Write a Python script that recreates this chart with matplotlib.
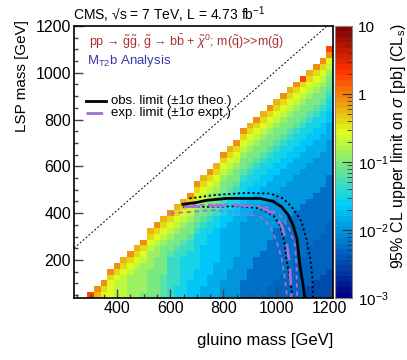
import numpy as np
import matplotlib
matplotlib.use('Agg')
from matplotlib import pyplot as plt
from matplotlib.colors import LinearSegmentedColormap, LogNorm
from matplotlib.ticker import FixedLocator, MultipleLocator, LogLocator, NullFormatter

plt.rcParams['font.family'] = ['Liberation Sans', 'DejaVu Sans']
plt.rcParams['mathtext.fontset'] = 'custom'
plt.rcParams['mathtext.rm'] = 'Liberation Sans'
plt.rcParams['mathtext.it'] = 'Liberation Sans:italic'
plt.rcParams['mathtext.sf'] = 'Liberation Sans'

# gluino mass of each filled column [GeV]
gluino_mass = [300, 325, 350, 375, 400, 425, 450, 475, 500, 525, 550, 575, 600,
               625, 650, 675, 700, 725, 750, 775, 800, 825, 850, 875, 900, 925,
               950, 975, 1000, 1025, 1050, 1075, 1100, 1125, 1150, 1175, 1200]

# colour level read off per cell, one string per column, bottom row is LSP = 50 GeV,
# step 25 GeV; 'a' = 1e-3 pb ... 'z' = 10 pb (log scale)
cell_levels = [
    "u",
    "rs",
    "pqs",
    "pppqs",
    "ooopqs",
    "oooopqr",
    "nnnnopqs",
    "nnnnnopqr",
    "mnnnnnopqs",
    "mmmmmnnnopqr",
    "mmmmmmmnnopqs",
    "llllmmmmmnopqr",
    "kkkkkkklmmnopqs",
    "jjkkkkkklmmnopqr",
    "jjjjjjjkklmmnopqr",
    "iiijjjjjkklmmnopqs",
    "iiiiijjjjjjklmmnopqs",
    "hhiiiiiiijjjklmmnopqr",
    "hhhhiiiiiiijjklmmnopqs",
    "hhhhhhiiiiiijjklmmnopqr",
    "ggghhhhhhhhhiijjklmmnopqs",
    "ggggghhhhhhhhiijjklmmnopqr",
    "ggggggghhhhhhhiijjklmmnopqs",
    "fffgggggggggghhhiijjklmmnopqs",
    "fffffggggggggghhhiijjklmmnopqr",
    "fffffffgggggggghhhiijjklmmnopqs",
    "ffffffffgggggggghhhiijjklmmnopqr",
    "eeffffffffggggggghhhiijjklmmnopqs",
    "eeefffffffffgggggghhhiijjklmmnopqr",
    "eeeefffffffffgggggghhhiijjklmmnopqs",
    "eeeeefffffffffgggggghhhiijjklmmnopqr",
    "eeeeeefffffffffgggggghhhiijjklmmnopqs",
    "eeeeeeefffffffffgggggghhhiijjklmmnopqu",
    "ddeeeeeeeffffffffgggggghhhiijjklmmnopqr",
    "dddeeeeeeeffffffffgggggghhhiijjklmmnopqs",
    "ddddeeeeeeeffffffffgggggghhhiijjklmmnopqs",
    "dddddeeeeeeeeffffffffgggggghhhiijjklmmnopsu",
]

# exclusion contours (gluino mass, LSP mass) [GeV]
obs_x = [647, 700, 737, 812, 937, 987, 1019, 1044, 1062, 1077, 1085, 1091, 1100, 1106]
obs_y = [438, 446, 455, 463, 463, 451, 427, 392, 349, 292, 207, 151, 94, 40]
obs_up_x = [672, 762, 887, 975, 1025, 1062, 1094, 1112, 1127, 1135, 1137]
obs_up_y = [463, 477, 487, 484, 463, 420, 363, 292, 207, 122, 40]
obs_dn_x = [647, 762, 862, 937, 987, 1012, 1029, 1037, 1050, 1060]
obs_dn_y = [427, 427, 430, 420, 392, 349, 278, 207, 122, 40]
exp_x = [650, 862, 937, 987, 1019, 1037, 1050, 1056]
exp_y = [427, 434, 427, 399, 349, 278, 179, 40]
exp_up_x = [650, 837, 962, 1012, 1047, 1069, 1075, 1077]
exp_up_y = [434, 438, 427, 392, 335, 264, 179, 40]
exp_dn_x = [600, 762, 862, 937, 975, 1000, 1019, 1031, 1040]
exp_dn_y = [399, 413, 403, 385, 349, 278, 207, 122, 40]

# ROOT style rainbow palette
stops = [0.0, 0.34, 0.61, 0.84, 1.0]
reds = [0.0, 0.0, 0.87, 1.0, 0.51]
greens = [0.0, 0.81, 1.0, 0.2, 0.0]
blues = [0.51, 1.0, 0.12, 0.0, 0.0]
palette = LinearSegmentedColormap.from_list(
    'root', [(s, (r, g, b)) for s, r, g, b in zip(stops, reds, greens, blues)], N=50)

x_edges = np.arange(237.5, 1212.6, 25)
y_edges = np.arange(37.5, 1212.6, 25)
z = np.full((len(y_edges) - 1, len(x_edges) - 1), np.nan)
for mg, col in zip(gluino_mass, cell_levels):
    i = int((mg - 250) // 25)
    for j, c in enumerate(col):
        z[j, i] = 10 ** (-3 + 4 * (ord(c) - ord('a')) / 25.0)

W, H = 407, 360
fig = plt.figure(figsize=(W / 100, H / 100), dpi=100)
ax = fig.add_axes([74 / W, 1 - 298 / H, 259 / W, 272 / H])
mesh = ax.pcolormesh(x_edges, y_edges, np.ma.masked_invalid(z), cmap=palette,
                     norm=LogNorm(1e-3, 10), shading='flat')

# kinematic diagonal
ax.plot([237.5, 1190], [250, 1200], color='black', ls=(0, (2, 2)), lw=0.7)

ax.plot(obs_up_x, obs_up_y, color='black', ls=(0, (1.2, 1.5)), lw=1.3)
ax.plot(obs_dn_x, obs_dn_y, color='black', ls=(0, (1.2, 1.5)), lw=1.3)
ax.plot(exp_up_x, exp_up_y, color='#a070d8', ls=(0, (2.5, 2)), lw=1.3)
ax.plot(exp_dn_x, exp_dn_y, color='#a070d8', ls=(0, (2.5, 2)), lw=1.3)
ax.plot(exp_x, exp_y, color='#a070d8', ls=(0, (6, 3)), lw=2)
ax.plot(obs_x, obs_y, color='black', lw=2)

ax.set_xlim(237.5, 1212.5)
ax.set_ylim(37.5, 1200)
ax.xaxis.set_major_locator(FixedLocator([400, 600, 800, 1000, 1200]))
ax.xaxis.set_minor_locator(MultipleLocator(50))
ax.yaxis.set_major_locator(FixedLocator([200, 400, 600, 800, 1000, 1200]))
ax.yaxis.set_minor_locator(MultipleLocator(50))
ax.tick_params(which='both', direction='in', color='#444444', labelsize=11.5, pad=2)
ax.tick_params(which='major', length=6.5, width=1)
ax.tick_params(which='minor', length=3, width=1)
for sp in ax.spines.values():
    sp.set_linewidth(1.2)

# colour bar
cax = fig.add_axes([335 / W, 1 - 298 / H, 17 / W, 272 / H])
cb = fig.colorbar(mesh, cax=cax)
cb.outline.set_edgecolor('#888888')
cb.set_ticks([1e-3, 1e-2, 1e-1, 1, 10])
cb.set_ticklabels(['10$^{-3}$', '10$^{-2}$', '10$^{-1}$', '1', '10'])
cax.yaxis.set_minor_locator(LogLocator(subs=np.arange(2, 10)))
cax.yaxis.set_minor_formatter(NullFormatter())
cax.tick_params(which='both', direction='in', color='#333333', labelsize=11, pad=4)
cax.tick_params(which='major', length=7)
cax.tick_params(which='minor', length=3.5)

# texts
fig.text(73 / W, 1 - 15 / H, 'CMS, \u221as = 7 TeV, L = 4.73 fb$^{-1}$', fontsize=10,
         va='center', ha='left')
fig.text(89 / W, 1 - 42 / H,
         'pp \u2192 ' + r'$\tilde{\mathrm{g}}\tilde{\mathrm{g}}$, $\tilde{\mathrm{g}}$' + ' \u2192 '
         r'b$\bar{\mathrm{b}}$ + $\tilde{\chi}^{0}$; m($\tilde{\mathrm{q}}$)>>m($\tilde{\mathrm{g}}$)',
         color='#aa3030', fontsize=9, va='center', ha='left')
fig.text(87 / W, 1 - 61 / H, r'M$_{\mathrm{T2}}$b Analysis', color='#3a3aa8', fontsize=9.5,
         va='center', ha='left')
fig.add_artist(plt.Line2D([86 / W, 106 / W], [1 - 101 / H, 1 - 101 / H], color='black', lw=2))
fig.text(111 / W, 1 - 101 / H, 'obs. limit (\u00b11\u03c3 theo.)', fontsize=9.5, va='center')
fig.add_artist(plt.Line2D([86 / W, 106 / W], [1 - 113 / H, 1 - 113 / H], color='#a070d8', lw=2,
                          ls=(0, (6, 3, 2, 3))))
fig.text(111 / W, 1 - 113 / H, 'exp. limit (\u00b11\u03c3 expt.)', fontsize=9.5, va='center')

fig.text(333 / W, 1 - 340 / H, 'gluino mass [GeV]', fontsize=12, ha='right', va='center')
fig.text(22 / W, 1 - 20 / H, 'LSP mass [GeV]', fontsize=11, rotation=90, ha='center', va='top')
fig.text(398 / W, 1 - 24 / H, r'95% CL upper limit on $\sigma$ [pb] (CL$_{\mathrm{s}}$)',
         fontsize=11.5, rotation=90, ha='center', va='top')

fig.savefig('out.png', dpi=100)
